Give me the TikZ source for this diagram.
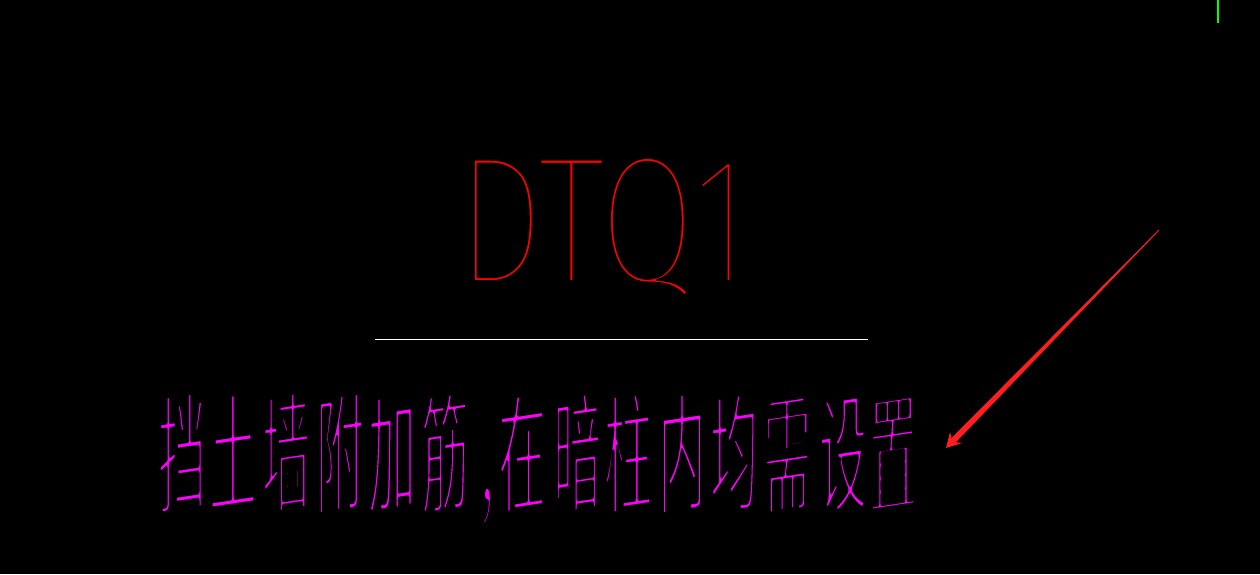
\documentclass[tikz,border=0pt]{standalone}
\usepackage{fontspec}
\newfontfamily\cjk{Noto Sans CJK SC}
\IfFontExistsTF{FiraSans-Thin.otf}
  {\newfontfamily\thinfont{FiraSans-Thin.otf}}
  {\IfFontExistsTF{Fira Sans Thin}
     {\newfontfamily\thinfont{Fira Sans Thin}}
     {\newfontfamily\thinfont{Liberation Sans}}}
% thin out filled glyphs: fill + black stroke
\newcommand{\strokethin}[2][6.2]{\special{pdf:literal direct 0 0 0 RG 1 j 1 J #1 w 2 Tr}#2\special{pdf:literal direct 0 Tr}}
\definecolor{cadred}{RGB}{255,0,0}
\definecolor{cadmag}{RGB}{255,0,255}
\definecolor{arrowred}{RGB}{255,30,30}
\definecolor{cadgreen}{RGB}{0,255,0}
\begin{document}
\begin{tikzpicture}[x=1pt,y=-1pt,
  title/.style={text=cadred, inner sep=0pt, font=\thinfont\fontsize{178}{178}\selectfont, xscale=0.78, transform shape},
  note/.style={text=cadmag, inner sep=0pt, anchor=base, font=\cjk\fontsize{130}{130}\selectfont, yslant=0.15, xscale=0.37, transform shape}]
\fill[black] (0,0) rectangle (1260,574);
\useasboundingbox (0,0) rectangle (1260,574);
% green mark
\draw[cadgreen, line width=1.2pt] (1218,0) -- (1218,23);
% title
\node[title, anchor=base west] (t) at (457,281) {\strokethin[1.8]{DTQ1}};
% underline
\coordinate (l1) at (375,339);
\coordinate (l2) at (868,339);
\draw[white, line width=1pt] (l1) -- (l2);
% note, one glyph per node (each glyph is slanted on its own)
\node[note] (c1)  at (182,502) {\strokethin{挡}};
\node[note] (c2)  at (233,502) {\strokethin{土}};
\node[note] (c3)  at (286,502) {\strokethin{墙}};
\node[note] (c4)  at (340,502) {\strokethin{附}};
\node[note] (c5)  at (392,502) {\strokethin{加}};
\node[note] (c6)  at (445,502) {\strokethin{筋}};
\node[note] (c7)  at (487,502) {\strokethin{,}};
\node[note] (c8)  at (522,502) {\strokethin{在}};
\node[note] (c9)  at (577,502) {\strokethin{暗}};
\node[note] (c10) at (628,502) {\strokethin{柱}};
\node[note] (c11) at (682,502) {\strokethin{内}};
\node[note] (c12) at (734,502) {\strokethin{均}};
\node[note] (c13) at (787,502) {\strokethin{需}};
\node[note] (c14) at (843,502) {\strokethin{设}};
\node[note] (c15) at (893,502) {\strokethin{置}};
% arrow (tapered)
\coordinate (s1) at (1159.3,230.3);
\coordinate (s2) at (1158.7,229.7);
\coordinate (e1) at (955.9,442.2);
\coordinate (e2) at (951.5,438.0);
\coordinate (b1) at (962,443);
\coordinate (b2) at (950,432);
\coordinate (tip) at (946,448);
\fill[arrowred] (s1) -- (e1) -- (b1) -- (tip) -- (b2) -- (e2) -- (s2) -- cycle;
\end{tikzpicture}
\end{document}
